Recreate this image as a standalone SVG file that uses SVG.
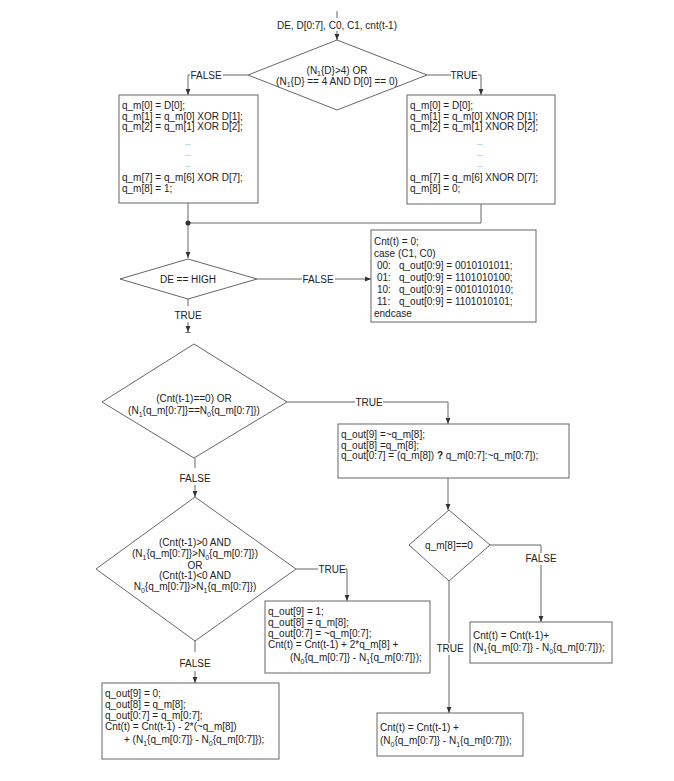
<svg xmlns="http://www.w3.org/2000/svg" width="674" height="781" viewBox="0 0 674 781">
<defs>
<style>
.t{font-family:"Liberation Sans",Arial,sans-serif;font-size:10px;fill:#222}
.c{text-anchor:middle}
.d{font-family:"Liberation Sans",Arial,sans-serif;font-size:7px;fill:#666;text-anchor:middle}
.s{font-size:7px}
.box{fill:#fff;stroke:#666;stroke-width:1}
.ln{fill:none;stroke:#666;stroke-width:1}
.bg{fill:#fff}
</style>
<marker id="ah" viewBox="0 0 10 10" refX="10" refY="5" markerWidth="6" markerHeight="6" markerUnits="userSpaceOnUse" orient="auto"><path d="M0,1 L10,5 L0,9 z" fill="#333"/></marker>
</defs>
<rect width="674" height="781" fill="#fff"/>

<g id="connectors">
<path class="ln" d="M337,11 V18"/>
<path class="ln" d="M337,31 V40" marker-end="url(#ah)"/>
<path class="ln" d="M248,75 H188 V95" marker-end="url(#ah)"/>
<rect class="bg" x="190" y="70" width="33" height="11"/>
<text class="t c" x="206" y="78.5">FALSE</text>
<path class="ln" d="M427,75 H481 V95" marker-end="url(#ah)"/>
<rect class="bg" x="451" y="70" width="27" height="11"/>
<text class="t c" x="464" y="78.5">TRUE</text>
<path class="ln" d="M188,203 V258" marker-end="url(#ah)"/>
<path class="ln" d="M481,204 V223 H188"/>
<circle cx="188" cy="223" r="2.5" fill="#333"/>
<path class="ln" d="M257,279 H371" marker-end="url(#ah)"/>
<rect class="bg" x="302" y="274" width="33" height="11"/>
<text class="t c" x="318" y="282.5">FALSE</text>
<path class="ln" d="M188,298 V306"/>
<text class="t c" x="188" y="318.5">TRUE</text>
<path class="ln" d="M188,322 V332" marker-end="url(#ah)"/>
<path class="ln" d="M185.5,332.5 H190.5"/>
<path class="ln" d="M287,402 H448 V424" marker-end="url(#ah)"/>
<rect class="bg" x="355" y="397" width="28" height="11"/>
<text class="t c" x="369" y="405.5">TRUE</text>
<path class="ln" d="M195,458 V468"/>
<text class="t c" x="195" y="481.5">FALSE</text>
<path class="ln" d="M195,485 V497" marker-end="url(#ah)"/>
<path class="ln" d="M448,478 V510" marker-end="url(#ah)"/>
<path class="ln" d="M490,545 H541 V622" marker-end="url(#ah)"/>
<rect class="bg" x="524" y="553" width="34" height="12"/>
<text class="t c" x="541" y="562">FALSE</text>
<path class="ln" d="M449,581 V713" marker-end="url(#ah)"/>
<rect class="bg" x="436" y="643" width="28" height="12"/>
<text class="t c" x="450" y="652">TRUE</text>
<path class="ln" d="M296,569 H347 V601" marker-end="url(#ah)"/>
<rect class="bg" x="318" y="564" width="27" height="11"/>
<text class="t c" x="332" y="572.5">TRUE</text>
<path class="ln" d="M195,641 V652"/>
<text class="t c" x="195" y="666.5">FALSE</text>
<path class="ln" d="M195,671 V683" marker-end="url(#ah)"/>
</g>

<g id="input">
<text class="t c" x="337" y="28.5">DE, D[0:7], C0, C1, cnt(t-1)</text>
</g>

<g id="dec1">
<polygon class="box" points="337,40 427,75 337,110 248,75"/>
<text class="t c" x="337" y="73.5">(N<tspan class="s" dy="2.5">1</tspan><tspan dy="-2.5">{D}&gt;4) OR</tspan></text>
<text class="t c" x="337" y="84.5">(N<tspan class="s" dy="2.5">1</tspan><tspan dy="-2.5">{D} == 4 AND D[0] == 0)</tspan></text>
</g>

<g id="boxXor">
<rect class="box" x="119" y="95" width="139" height="108"/>
<text class="t" x="122" y="109">q_m[0] = D[0];</text>
<text class="t" x="122" y="119.5">q_m[1] = q_m[0] XOR D[1];</text>
<text class="t" x="122" y="130">q_m[2] = q_m[1] XOR D[2];</text>
<text class="d" x="188" y="145">...</text>
<text class="d" x="188" y="156">...</text>
<text class="d" x="188" y="167">...</text>
<text class="t" x="122" y="181">q_m[7] = q_m[6] XOR D[7];</text>
<text class="t" x="122" y="192">q_m[8] = 1;</text>
</g>

<g id="boxXnor">
<rect class="box" x="407" y="95" width="148" height="109"/>
<text class="t" x="410" y="109">q_m[0] = D[0];</text>
<text class="t" x="410" y="119.5">q_m[1] = q_m[0] XNOR D[1];</text>
<text class="t" x="410" y="130">q_m[2] = q_m[1] XNOR D[2];</text>
<text class="d" x="480" y="145">...</text>
<text class="d" x="480" y="156">...</text>
<text class="d" x="480" y="167">...</text>
<text class="t" x="410" y="181">q_m[7] = q_m[6] XNOR D[7];</text>
<text class="t" x="410" y="192">q_m[8] = 0;</text>
</g>

<g id="decDE">
<polygon class="box" points="188,259 257,279 188,299 120,279"/>
<text class="t c" x="188" y="282.5">DE == HIGH</text>
</g>

<g id="boxCtrl">
<rect class="box" x="371" y="230" width="165" height="92"/>
<text class="t" x="374" y="245">Cnt(t) = 0;</text>
<text class="t" x="374" y="257">case (C1, C0)</text>
<text class="t" x="377" y="269">00:</text><text class="t" x="399" y="269">q_out[0:9] = 0010101011;</text>
<text class="t" x="377" y="281">01:</text><text class="t" x="399" y="281">q_out[0:9] = 1101010100;</text>
<text class="t" x="377" y="293">10:</text><text class="t" x="399" y="293">q_out[0:9] = 0010101010;</text>
<text class="t" x="377" y="305">11:</text><text class="t" x="399" y="305">q_out[0:9] = 1101010101;</text>
<text class="t" x="374" y="317">endcase</text>
</g>

<g id="dec2">
<polygon class="box" points="194,344 287,402 194,458 102,402"/>
<text class="t c" x="194" y="402">(Cnt(t-1)==0) OR</text>
<text class="t c" x="194" y="414">(N<tspan class="s" dy="2.5">1</tspan><tspan dy="-2.5">{q_m[0:7]}==N</tspan><tspan class="s" dy="2.5">0</tspan><tspan dy="-2.5">{q_m[0:7]})</tspan></text>
</g>

<g id="boxEq">
<rect class="box" x="338" y="424" width="231" height="54"/>
<text class="t" x="341" y="438">q_out[9] =~q_m[8];</text>
<text class="t" x="341" y="448.5">q_out[8] =q_m[8];</text>
<text class="t" x="341" y="459">q_out[0:7] = (q_m[8]) <tspan font-weight="bold">?</tspan> q_m[0:7]:~q_m[0:7]);</text>
</g>

<g id="decQm8">
<polygon class="box" points="449,510 490,545 449,581 409,545"/>
<text class="t c" x="449" y="548.5">q_m[8]==0</text>
</g>

<g id="boxF">
<rect class="box" x="470" y="622" width="142" height="41"/>
<text class="t" x="473" y="639">Cnt(t) = Cnt(t-1)+</text>
<text class="t" x="473" y="651">(N<tspan class="s" dy="2.5">1</tspan><tspan dy="-2.5">{q_m[0:7]} - N</tspan><tspan class="s" dy="2.5">0</tspan><tspan dy="-2.5">{q_m[0:7]});</tspan></text>
</g>

<g id="boxG">
<rect class="box" x="377" y="713" width="146" height="43"/>
<text class="t" x="380" y="731">Cnt(t) = Cnt(t-1) +</text>
<text class="t" x="380" y="744">(N<tspan class="s" dy="2.5">0</tspan><tspan dy="-2.5">{q_m[0:7]} - N</tspan><tspan class="s" dy="2.5">1</tspan><tspan dy="-2.5">{q_m[0:7]});</tspan></text>
</g>

<g id="dec3">
<polygon class="box" points="195,497 296,569 195,641 96,569"/>
<text class="t c" x="195" y="546">(Cnt(t-1)&gt;0 AND</text>
<text class="t c" x="195" y="557">(N<tspan class="s" dy="2.5">1</tspan><tspan dy="-2.5">{q_m[0:7]}&gt;N</tspan><tspan class="s" dy="2.5">0</tspan><tspan dy="-2.5">{q_m[0:7]})</tspan></text>
<text class="t c" x="195" y="568.5">OR</text>
<text class="t c" x="195" y="579">(Cnt(t-1)&lt;0 AND</text>
<text class="t c" x="195" y="590">N<tspan class="s" dy="2.5">0</tspan><tspan dy="-2.5">{q_m[0:7]}&gt;N</tspan><tspan class="s" dy="2.5">1</tspan><tspan dy="-2.5">{q_m[0:7]})</tspan></text>
</g>

<g id="boxH">
<rect class="box" x="265" y="601" width="165" height="72"/>
<text class="t" x="268" y="615">q_out[9] = 1;</text>
<text class="t" x="268" y="626">q_out[8] = q_m[8];</text>
<text class="t" x="268" y="637">q_out[0:7] = ~q_m[0:7];</text>
<text class="t" x="268" y="648">Cnt(t) = Cnt(t-1) + 2*q_m[8] +</text>
<text class="t" x="290" y="661">(N<tspan class="s" dy="2.5">0</tspan><tspan dy="-2.5">{q_m[0:7]} - N</tspan><tspan class="s" dy="2.5">1</tspan><tspan dy="-2.5">{q_m[0:7]});</tspan></text>
</g>

<g id="boxI">
<rect class="box" x="102" y="683" width="177" height="76"/>
<text class="t" x="105" y="697">q_out[9] = 0;</text>
<text class="t" x="105" y="708">q_out[8] = q_m[8];</text>
<text class="t" x="105" y="719">q_out[0:7] = q_m[0:7];</text>
<text class="t" x="105" y="730">Cnt(t) = Cnt(t-1) - 2*(~q_m[8])</text>
<text class="t" x="124" y="743">+ (N<tspan class="s" dy="2.5">1</tspan><tspan dy="-2.5">{q_m[0:7]} - N</tspan><tspan class="s" dy="2.5">0</tspan><tspan dy="-2.5">{q_m[0:7]});</tspan></text>
</g>
</svg>
